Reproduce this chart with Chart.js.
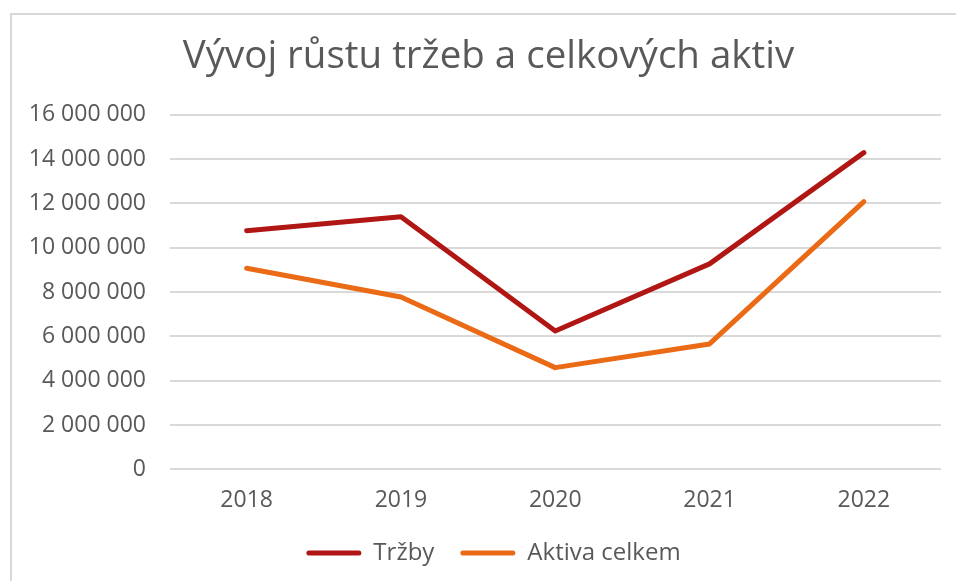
<!DOCTYPE html>
<html>
<head>
<meta charset="utf-8">
<script src="https://cdn.jsdelivr.net/npm/chart.js@4/dist/chart.umd.min.js"></script>
<style>
  html, body { margin: 0; padding: 0; background: #ffffff; }
  #wrap { position: relative; width: 956px; height: 581px; overflow: hidden; }
  #frame { position: absolute; left: 10px; top: 13px; width: 960px; height: 580px;
           border-top: 2px solid #d9d9d9; border-left: 2px solid #d9d9d9; box-sizing: border-box; }
  canvas { position: absolute; left: 0; top: 0; }
</style>
</head>
<body>
<div id="wrap">
  <div id="frame"></div>
  <canvas id="c" width="956" height="581"></canvas>
</div>
<script>
const titleText = "Vývoj růstu tržeb a celkových aktiv";
const years = ["2018", "2019", "2020", "2021", "2022"];
const trzby = [10770000, 11400000, 6240000, 9270000, 14290000];
const aktiva = [9070000, 7780000, 4590000, 5660000, 12080000];
const seriesNames = ["Tržby", "Aktiva celkem"];
const yTickValues = [0, 2000000, 4000000, 6000000, 8000000, 10000000, 12000000, 14000000, 16000000];

const FONT = "'Open Sans', 'DejaVu Sans', sans-serif";
const TEXT = "#595959";
const RED = "#b01714";
const ORANGE = "#ea6a16";

function fmt(v) {
  return String(Math.round(v)).replace(/\B(?=(\d{3})+(?!\d))/g, " ");
}

// the reference centres its title and legend a little right of the canvas middle,
// and its legend row sits a little higher than Chart.js would put it
const boxShift = {
  id: "boxShift",
  afterLayout(chart) {
    if (chart.legend) {
      chart.legend.left += 46;
      chart.legend.top -= 17;
      chart.legend.bottom -= 17;
    }
    if (chart.titleBlock) { chart.titleBlock.left += 36; }
  }
};

new Chart(document.getElementById("c"), {
  type: "line",
  data: {
    labels: years,
    datasets: [
      { label: seriesNames[0], data: trzby, borderColor: RED, backgroundColor: RED,
        borderWidth: 5, pointRadius: 0, tension: 0, borderCapStyle: "round", borderJoinStyle: "round" },
      { label: seriesNames[1], data: aktiva, borderColor: ORANGE, backgroundColor: ORANGE,
        borderWidth: 5, pointRadius: 0, tension: 0, borderCapStyle: "round", borderJoinStyle: "round" }
    ]
  },
  plugins: [boxShift],
  options: {
    responsive: false,
    animation: false,
    devicePixelRatio: 1,
    layout: { padding: { left: 0, right: 15, top: 34, bottom: -11 } },
    plugins: {
      title: {
        display: true, text: titleText, color: TEXT,
        font: { family: FONT, size: 38.5, weight: "normal" },
        padding: { top: 0, bottom: 34.5 }
      },
      legend: {
        position: "bottom",
        labels: {
          color: TEXT, font: { family: FONT, size: 24 },
          boxWidth: 55, boxHeight: 5, useBorderRadius: true, borderRadius: 2.5,
          padding: 26,
          generateLabels: (chart) => {
            const items = Chart.defaults.plugins.legend.labels.generateLabels(chart);
            items.forEach(it => { it.lineWidth = 0; });
            return items;
          }
        }
      },
      tooltip: { enabled: false }
    },
    scales: {
      x: {
        offset: true,
        grid: { display: false, drawTicks: false },
        border: { display: false },
        ticks: { color: TEXT, font: { family: FONT, size: 23 }, padding: 17.5, maxRotation: 0 }
      },
      y: {
        min: 0, max: 16000000,
        afterFit: (s) => { s.width = 169.5; },
        afterBuildTicks: (s) => { s.ticks = yTickValues.map(v => ({ value: v })); },
        grid: { color: "#d9d9d9", lineWidth: 2, drawTicks: false },
        border: { display: false },
        ticks: { color: TEXT, font: { family: FONT, size: 23 }, padding: 23.5, callback: (v) => fmt(v) }
      }
    }
  }
});
</script>
</body>
</html>
